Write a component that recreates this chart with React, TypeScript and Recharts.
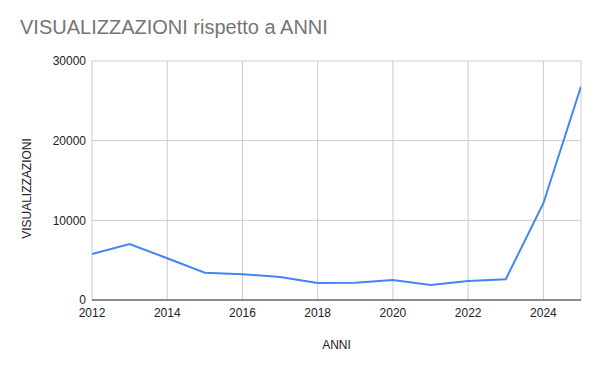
import React from 'react';
import { LineChart, Line, XAxis, YAxis, CartesianGrid } from 'recharts';

const years = [2012, 2013, 2014, 2015, 2016, 2017, 2018, 2019, 2020, 2021, 2022, 2023, 2024, 2025];
const views = [5780, 7030, 5240, 3430, 3230, 2890, 2140, 2180, 2510, 1880, 2390, 2600, 12150, 26800];
const xTicks = [2012, 2014, 2016, 2018, 2020, 2022, 2024];
const yTicks = [0, 10000, 20000, 30000];

const data = years.map((y, i) => ({ anno: y, visualizzazioni: views[i] }));

const font = 'Arial, "Liberation Sans", sans-serif';

export default function App() {
  return (
    <div style={{ position: 'absolute', left: 0, top: 0, width: 600, height: 371, background: '#fff', fontFamily: font }}>
      <div style={{ position: 'absolute', left: 20, top: 16, fontSize: 20, color: '#757575', fontFamily: font, whiteSpace: 'nowrap' }}>
        VISUALIZZAZIONI rispetto a ANNI
      </div>
      <LineChart width={600} height={371} data={data} margin={{ top: 61, right: 19, bottom: 41, left: 0 }}>
        <CartesianGrid stroke="#cccccc" strokeWidth={1} />
        <XAxis
          dataKey="anno"
          type="number"
          domain={[2012, 2025]}
          ticks={xTicks}
          allowDataOverflow
          height={30}
          tickLine={false}
          tickSize={0}
          tickMargin={8}
          axisLine={{ stroke: '#333333' }}
          tick={{ fill: '#222222', fontSize: 12, fontFamily: font }}
          interval={0}
          label={(props: any) => {
            const vb = props.viewBox;
            return (
              <text x={vb.x + vb.width / 2} y={349} textAnchor="middle" fill="#222222" fontSize={12} fontFamily={font}>
                ANNI
              </text>
            );
          }}
        />
        <YAxis
          type="number"
          domain={[0, 30000]}
          ticks={yTicks}
          width={92}
          tickLine={false}
          axisLine={false}
          tickSize={0}
          tickMargin={6}
          tick={{ fill: '#222222', fontSize: 12, fontFamily: font }}
          interval={0}
          label={(props: any) => {
            const vb = props.viewBox;
            const cx = 31;
            const cy = vb.y + vb.height / 2 + 8;
            return (
              <text x={cx} y={cy} transform={`rotate(-90 ${cx} ${cy})`} textAnchor="middle" fill="#222222" fontSize={12} fontFamily={font}>
                VISUALIZZAZIONI
              </text>
            );
          }}
        />
        <Line
          type="linear"
          dataKey="visualizzazioni"
          stroke="#4285F4"
          strokeWidth={2}
          dot={false}
          activeDot={false}
          isAnimationActive={false}
        />
      </LineChart>
    </div>
  );
}
